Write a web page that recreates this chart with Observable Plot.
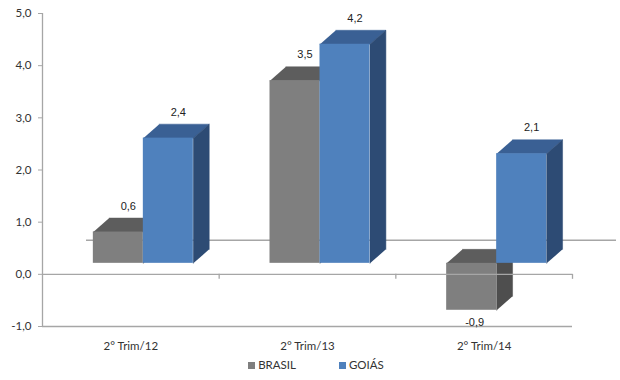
<!DOCTYPE html>
<html>
<head>
<meta charset="utf-8">
<script src="https://cdn.jsdelivr.net/npm/d3@7"></script>
<script src="https://cdn.jsdelivr.net/npm/@observablehq/plot@0.6"></script>
<style>
  html, body { margin: 0; padding: 0; background: #fff; }
  #chart { width: 620px; }
  .legend { display: flex; justify-content: center; gap: 43px; font: 11.5px Lato, "Open Sans", sans-serif; color: #333; height: 22px; align-items: flex-start; margin-left: 12px; margin-top: 3px; }
  .legend span.sw { display: inline-block; width: 7px; height: 7px; margin-right: 3px; vertical-align: 0px; }
</style>
</head>
<body>
<div id="chart"></div>
<script>
// ---- data ----
const categories = ["2° Trim/12", "2° Trim/13", "2° Trim/14"];
const series = ["BRASIL", "GOIÁS"];
const brasil = [0.6, 3.5, -0.9];
const goias = [2.4, 4.2, 2.1];
const yTicks = [-1, 0, 1, 2, 3, 4, 5];

// ---- style ----
const colors = {
  BRASIL: { front: "#7f7f7f", top: "#5d5d5d", side: "#4e4e4e" },
  "GOIÁS": { front: "#4f81bd", top: "#3a6094", side: "#2d4b74" }
};
const barW = 0.283;     // bar width in category units
const depthX = 0.09;    // 3D depth (x units)
const depthY = 0.268;   // 3D depth (value units)
const offX = 12.5, offY = -11; // front plane offset in px
const fmt = v => v.toFixed(1).replace(".", ",");

const valuesBySeries = { BRASIL: brasil, "GOIÁS": goias };

function barsFor(s, si) {
  const vals = valuesBySeries[s];
  const fronts = [], tops = [], sides = [];
  vals.forEach((v, i) => {
    const L = i + 0.5 + (si === 0 ? -barW : 0), R = L + barW;
    const lo = Math.min(0, v), hi = Math.max(0, v);
    const id = s + i;
    fronts.push({ x1: L, x2: R, y1: lo, y2: hi });
    tops.push({ id, x: L, y: hi }, { id, x: R, y: hi }, { id, x: R + depthX, y: hi + depthY }, { id, x: L + depthX, y: hi + depthY });
    sides.push({ id, x: R, y: lo }, { id, x: R, y: hi }, { id, x: R + depthX, y: hi + depthY }, { id, x: R + depthX, y: lo + depthY });
  });
  const c = colors[s];
  return [
    Plot.line(tops, { x: "x", y: "y", z: "id", fill: c.top, stroke: c.top, strokeWidth: 0.5, dx: offX, dy: offY }),
    Plot.line(sides, { x: "x", y: "y", z: "id", fill: c.side, stroke: c.side, strokeWidth: 0.5, dx: offX, dy: offY }),
    Plot.rect(fronts, { x1: "x1", x2: "x2", y1: "y1", y2: "y2", fill: c.front, dx: offX, dy: offY })
  ];
}

const labels = [];
series.forEach((s, si) => {
  valuesBySeries[s].forEach((v, i) => {
    const L = i + 0.5 + (si === 0 ? -barW : 0), R = L + barW;
    labels.push({ v, x: (L + R) / 2 + (v >= 0 ? depthX / 2 : 0), y: v >= 0 ? v + depthY : v });
  });
});

const plot = Plot.plot({
  width: 620,
  height: 355,
  marginLeft: 42,
  marginRight: 48,
  marginTop: 13,
  marginBottom: 29,
  style: { fontFamily: "Lato, 'Open Sans', sans-serif", fontSize: "11.5px", color: "#333", background: "#fff" },
  x: { domain: [0, 3], axis: null },
  y: { domain: [-1, 5], axis: null },
  marks: [
    // back wall zero line
    Plot.ruleY([0], { stroke: "#a6a6a6", strokeWidth: 1.5, dx: 44, dy: -34 }),
    ...barsFor("BRASIL", 0),
    ...barsFor("GOIÁS", 1),
    // floor lines
    Plot.ruleY([-1], { stroke: "#a6a6a6", strokeWidth: 1.3 }),
    Plot.ruleY([0], { stroke: "#a6a6a6", strokeWidth: 1.3 }),
    Plot.ruleX([1, 2, 3], { y1: 0, y2: 0, insetBottom: -5, stroke: "#a6a6a6", strokeWidth: 1.3 }),
    Plot.ruleX([0], { y1: -1, y2: 5, stroke: "#a6a6a6", strokeWidth: 1.3 }),
    Plot.axisY({ ticks: yTicks, tickFormat: fmt, tickSize: 4, tickPadding: 7, stroke: "#a6a6a6", fontSize: 11.5 }),
    Plot.axisX({ ticks: [0.5, 1.5, 2.5], tickFormat: d => categories[Math.floor(d)], tickSize: 0, tickPadding: 15, fontSize: 11.5 }),
    // value labels
    Plot.text(labels.filter(d => d.v >= 0), { x: "x", y: "y", text: d => fmt(d.v), dx: offX + 2, dy: offY - 12, fontFamily: "Liberation Sans, Arial, sans-serif", fontSize: 11, fill: "#222" }),
    Plot.text(labels.filter(d => d.v < 0), { x: "x", y: "y", text: d => fmt(d.v), dx: offX + 3, dy: offY + 12, fontFamily: "Liberation Sans, Arial, sans-serif", fontSize: 11, fill: "#222" })
  ]
});
document.getElementById("chart").appendChild(plot);

const legend = document.createElement("div");
legend.className = "legend";
series.forEach(s => {
  const item = document.createElement("div");
  item.innerHTML = `<span class="sw" style="background:${colors[s].front}"></span>${s}`;
  legend.appendChild(item);
});
document.getElementById("chart").appendChild(legend);
</script>
</body>
</html>
